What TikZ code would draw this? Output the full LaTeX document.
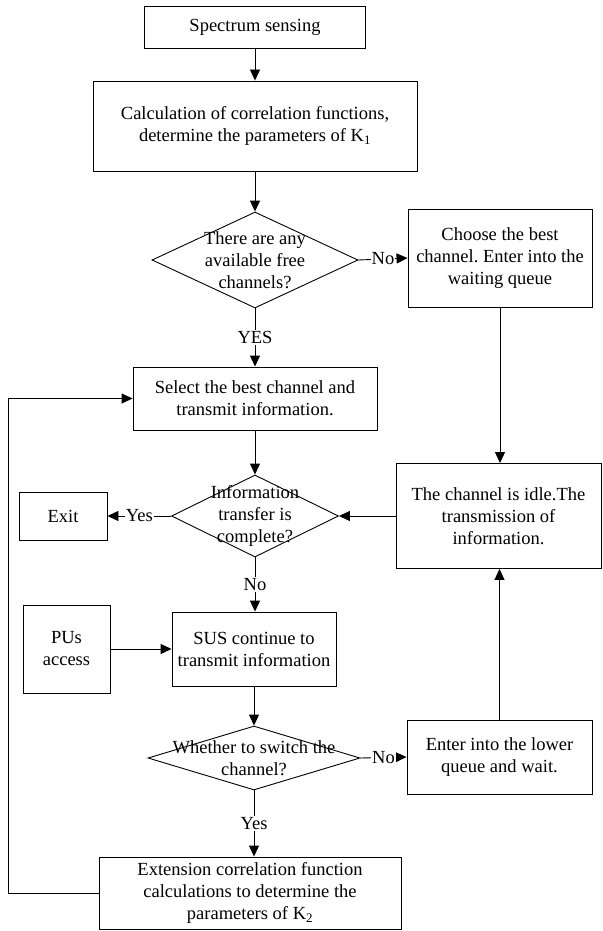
\documentclass[tikz,border=0pt]{standalone}
\usepackage{fontspec}
\setmainfont{Liberation Serif}
\usepackage{tikz}
\usetikzlibrary{shapes.geometric,arrows.meta}
\frenchspacing

\begin{document}
\begin{tikzpicture}[x=1pt, y=-1pt,
    font=\fontsize{18.5}{22}\selectfont,
    line width=0.9pt,
    >={Triangle[length=11pt,width=10pt]},
    block/.style={rectangle, draw, align=center, inner sep=0pt},
    decision/.style={diamond, draw, inner sep=0pt},
    dtext/.style={align=center, inner sep=0pt},
    answer/.style={fill=white, inner sep=1pt}
    ]
    \useasboundingbox (0,0) rectangle (602,931);
    % main column
    \node[block, minimum width=221pt, minimum height=42pt] (sense) at (255,27) {Spectrum sensing};
    \node[block, minimum width=324pt, minimum height=90pt] (corr) at (255,126)
      {Calculation of correlation functions,\\ determine the parameters of K\textsubscript{1}};
    \node[decision, minimum width=206pt, minimum height=96pt] (free) at (255,260) {};
    \node[dtext] (freetext) at (free) {There are any\\ available free\\ channels?};
    \node[block, minimum width=184pt, minimum height=98pt] (choose) at (500,258)
      {Choose the best\\ channel. Enter into the\\ waiting queue};
    \node[block, minimum width=244pt, minimum height=63pt] (select) at (255,398.5)
      {Select the best channel and\\ transmit information.};
    \node[decision, minimum width=167pt, minimum height=82pt] (done) at (255,516) {};
    \node[dtext] (donetext) at (done) {Information\\ transfer is\\ complete?};
    \node[block, minimum width=88pt, minimum height=48pt] (exit) at (63,516) {Exit};
    \node[block, minimum width=205pt, minimum height=105pt] (idle) at (498.5,516)
      {The channel is idle.The\\ transmission of\\ information.};
    \node[block, minimum width=87pt, minimum height=88pt] (pus) at (66.5,649) {PUs\\ access};
    \node[block, minimum width=164pt, minimum height=74pt] (sus) at (254,649)
      {SUS continue to\\ transmit information};
    \node[decision, minimum width=212pt, minimum height=64pt] (switch) at (254,758) {};
    \node[dtext] (switchtext) at (switch) {Whether to switch the\\ channel?};
    \node[block, minimum width=185pt, minimum height=74pt] (lower) at (499.5,757)
      {Enter into the lower\\ queue and wait.};
    \node[block, minimum width=302pt, minimum height=72pt] (ext) at (250,893)
      {Extension correlation function\\ calculations to determine the\\ parameters of K\textsubscript{2}};
    \coordinate (loop) at (8,893);

    % connectors
    \draw[->] (sense) -- (corr);
    \draw[->] (corr) -- (free);
    \draw[->] (free.east) -- node[answer] {No} (choose.west);
    \draw[->] (free.south) -- node[answer] {YES} (select.north);
    \draw[->] (choose.south) -- (choose.south |- idle.north);
    \draw[->] (select) -- (done);
    \draw[->] (idle.west) -- (done.east);
    \draw[->] (done.west) -- node[answer] {Yes} (exit.east);
    \draw[->] (done.south) -- node[answer] {No} (done.south |- sus.north);
    \draw[->] (pus) -- (sus);
    \draw[->] (sus) -- (switch);
    \draw[->] (switch.east) -- node[answer] {No} (lower.west);
    \draw[->] (lower.north) -- (lower.north |- idle.south);
    \draw[->] (switch.south) -- node[answer] {Yes} (switch.south |- ext.north);
    \draw[->] (ext.west) -- (loop) |- (select.west);
  \end{tikzpicture}
\end{document}
